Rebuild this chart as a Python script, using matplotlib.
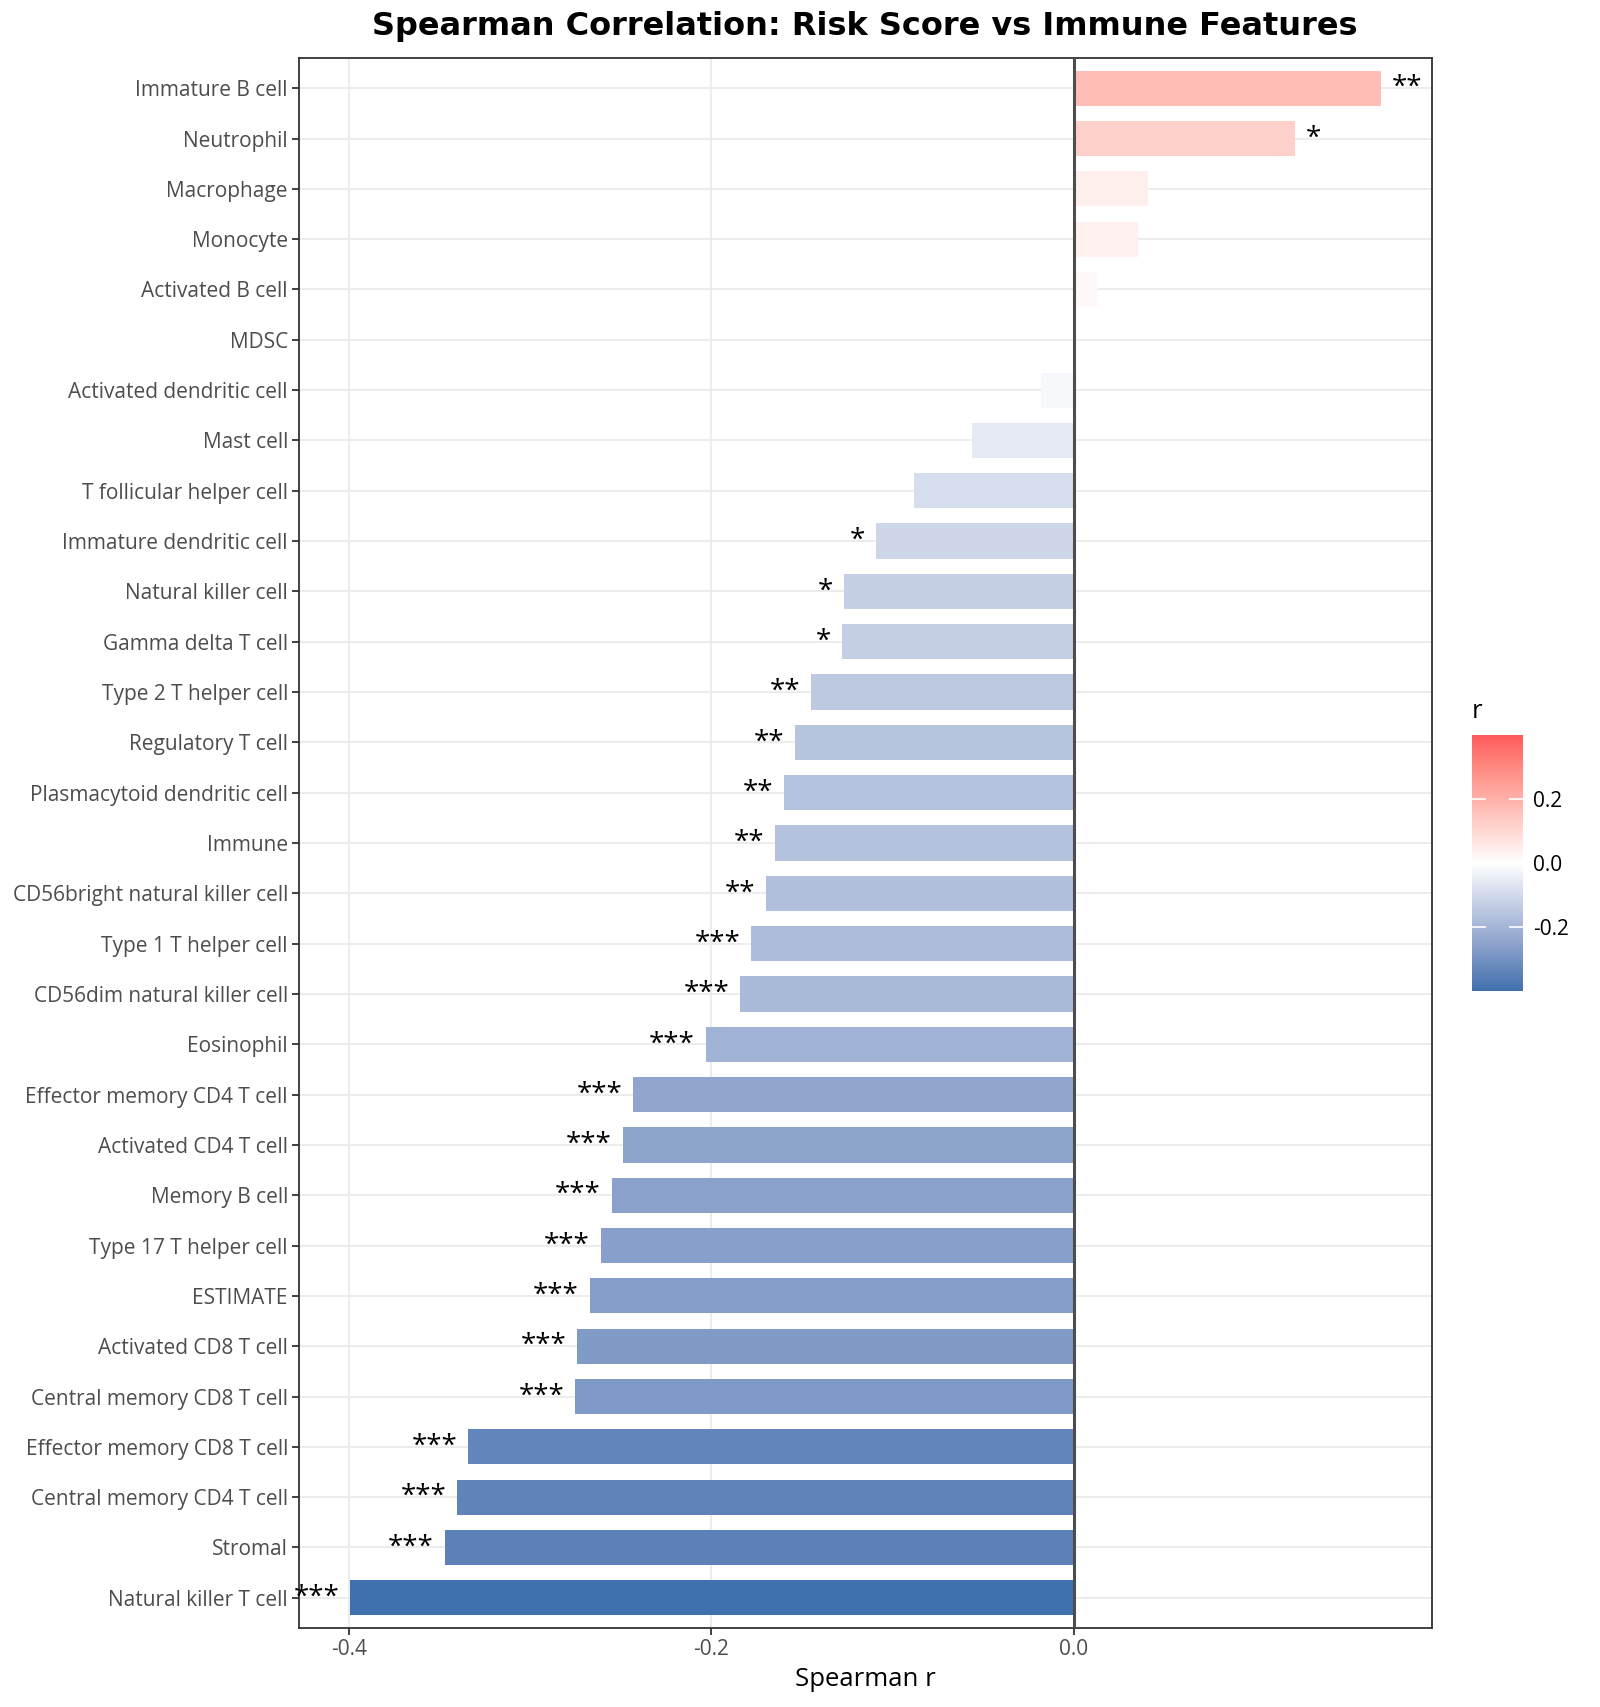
import numpy as np
import matplotlib
matplotlib.use("Agg")
import matplotlib.pyplot as plt
from matplotlib.colors import ListedColormap, Normalize, to_rgb

categories = [
    "Immature B cell", "Neutrophil", "Macrophage", "Monocyte", "Activated B cell",
    "MDSC", "Activated dendritic cell", "Mast cell", "T follicular helper cell",
    "Immature dendritic cell", "Natural killer cell", "Gamma delta T cell",
    "Type 2 T helper cell", "Regulatory T cell", "Plasmacytoid dendritic cell",
    "Immune", "CD56bright natural killer cell", "Type 1 T helper cell",
    "CD56dim natural killer cell", "Eosinophil", "Effector memory CD4 T cell",
    "Activated CD4 T cell", "Memory B cell", "Type 17 T helper cell", "ESTIMATE",
    "Activated CD8 T cell", "Central memory CD8 T cell", "Effector memory CD8 T cell",
    "Central memory CD4 T cell", "Stromal", "Natural killer T cell",
]
r_values = [
    0.169, 0.122, 0.041, 0.035, 0.013,
    0.0005, -0.018, -0.056, -0.088,
    -0.109, -0.127, -0.128,
    -0.145, -0.154, -0.160,
    -0.165, -0.170, -0.178,
    -0.184, -0.203, -0.243,
    -0.249, -0.255, -0.261, -0.267,
    -0.274, -0.275, -0.334,
    -0.340, -0.347, -0.399,
]
signif = [
    "**", "*", "", "", "",
    "", "", "", "",
    "*", "*", "*",
    "**", "**", "**",
    "**", "**", "***",
    "***", "***", "***",
    "***", "***", "***", "***",
    "***", "***", "***",
    "***", "***", "***",
]
x_ticks = [-0.4, -0.2, 0.0]
cbar_ticks = [-0.2, 0.0, 0.2]
low_col, mid_col, high_col = "#3F71AE", "#FFFFFF", "#FF5A5A"


# ---- Lab interpolated diverging colormap (like ggplot's gradient2) ----
def srgb_to_lab(rgb):
    rgb = np.asarray(rgb, float)
    lin = np.where(rgb <= 0.04045, rgb / 12.92, ((rgb + 0.055) / 1.055) ** 2.4)
    M = np.array([[0.4124, 0.3576, 0.1805],
                  [0.2126, 0.7152, 0.0722],
                  [0.0193, 0.1192, 0.9505]])
    xyz = M @ lin
    wp = np.array([0.95047, 1.0, 1.08883])
    t = xyz / wp
    f = np.where(t > (6 / 29) ** 3, np.cbrt(t), t / (3 * (6 / 29) ** 2) + 4 / 29)
    return np.array([116 * f[1] - 16, 500 * (f[0] - f[1]), 200 * (f[1] - f[2])])


def lab_to_srgb(lab):
    L, a, b = lab
    fy = (L + 16) / 116
    fx = fy + a / 500
    fz = fy - b / 200
    def finv(f):
        return np.where(f > 6 / 29, f ** 3, 3 * (6 / 29) ** 2 * (f - 4 / 29))
    wp = np.array([0.95047, 1.0, 1.08883])
    xyz = np.array([finv(fx), finv(fy), finv(fz)]) * wp
    Minv = np.array([[3.2406, -1.5372, -0.4986],
                     [-0.9689, 1.8758, 0.0415],
                     [0.0557, -0.2040, 1.0570]])
    lin = Minv @ xyz
    lin = np.clip(lin, 0, 1)
    rgb = np.where(lin <= 0.0031308, 12.92 * lin, 1.055 * lin ** (1 / 2.4) - 0.055)
    return np.clip(rgb, 0, 1)


lab_lo, lab_mid, lab_hi = (srgb_to_lab(to_rgb(c)) for c in (low_col, mid_col, high_col))
cols = []
N = 256
for i in range(N):
    t = i / (N - 1)
    if t < 0.5:
        u = t / 0.5
        lab = lab_lo + (lab_mid - lab_lo) * u
    else:
        u = (t - 0.5) / 0.5
        lab = lab_mid + (lab_hi - lab_mid) * u
    cols.append(lab_to_srgb(lab))
cmap = ListedColormap(cols)
lim = max(abs(v) for v in r_values)
norm = Normalize(vmin=-lim, vmax=lim)

label_font = ["Open Sans", "DejaVu Sans"]
grey_txt = "#4D4D4D"

W, H = 1600, 1707
fig = plt.figure(figsize=(W / 100, H / 100), dpi=100)
left, right, top, bottom = 299, 1432, 58, 1628
ax = fig.add_axes([left / W, 1 - bottom / H, (right - left) / W, (bottom - top) / H])

n = len(categories)
ypos = np.arange(n)
ax.barh(ypos, r_values, height=0.7, color=[cmap(norm(v)) for v in r_values], zorder=3)

ax.axvline(0, color="#4D4D4D", lw=2.2, zorder=4)

xr = max(r_values) - min(r_values)
ax.set_xlim(min(r_values) - 0.05 * xr, max(r_values) + 0.05 * xr)
ax.set_ylim(n - 1 + 0.6, -0.6)

off = 0.006
for y, v, s in zip(ypos, r_values, signif):
    if not s:
        continue
    if v >= 0:
        ax.text(v + off, y, s, ha="left", va="center", fontsize=20,
                family=label_font, color="black", zorder=5, clip_on=False)
    else:
        ax.text(v - off, y, s, ha="right", va="center", fontsize=20,
                family=label_font, color="black", zorder=5, clip_on=False)

ax.set_yticks(ypos)
ax.set_yticklabels(categories, family=label_font, fontsize=15, color=grey_txt)
ax.set_xticks(x_ticks)
ax.set_xticklabels([f"{t:.1f}" for t in x_ticks], family=label_font, fontsize=15, color=grey_txt)
ax.tick_params(axis="both", length=5, width=1.3, color="#333333", pad=3)
ax.grid(True, color="#EBEBEB", lw=1.3, zorder=0)
ax.set_axisbelow(True)
for sp in ax.spines.values():
    sp.set_color("#333333")
    sp.set_linewidth(1.3)
ax.set_xlabel("Spearman r", family=label_font, fontsize=18.5, color="black", labelpad=5)

fig.text(865 / W, 1 - 26 / H, "Spearman Correlation: Risk Score vs Immune Features",
         ha="center", va="center", fontsize=23, fontweight="bold", family="DejaVu Sans")

# colorbar
cax = fig.add_axes([1472 / W, 1 - 991 / H, 51 / W, 256 / H])
sm = plt.cm.ScalarMappable(norm=norm, cmap=cmap)
cb = fig.colorbar(sm, cax=cax)
cb.outline.set_visible(False)
cb.set_ticks(cbar_ticks)
cb.set_ticklabels([f"{t:.1f}" for t in cbar_ticks])
cax.tick_params(axis="y", direction="in", length=10, width=1.2, color="white",
                left=True, right=True, labelsize=15)
for lbl in cax.get_yticklabels():
    lbl.set_family(label_font)
    lbl.set_color("black")
cax.yaxis.set_tick_params(pad=7)
fig.text(1472 / W, 1 - 712 / H, "r", ha="left", va="center", fontsize=18.5,
         family=label_font, color="black")

fig.savefig("out.png", dpi=100)
